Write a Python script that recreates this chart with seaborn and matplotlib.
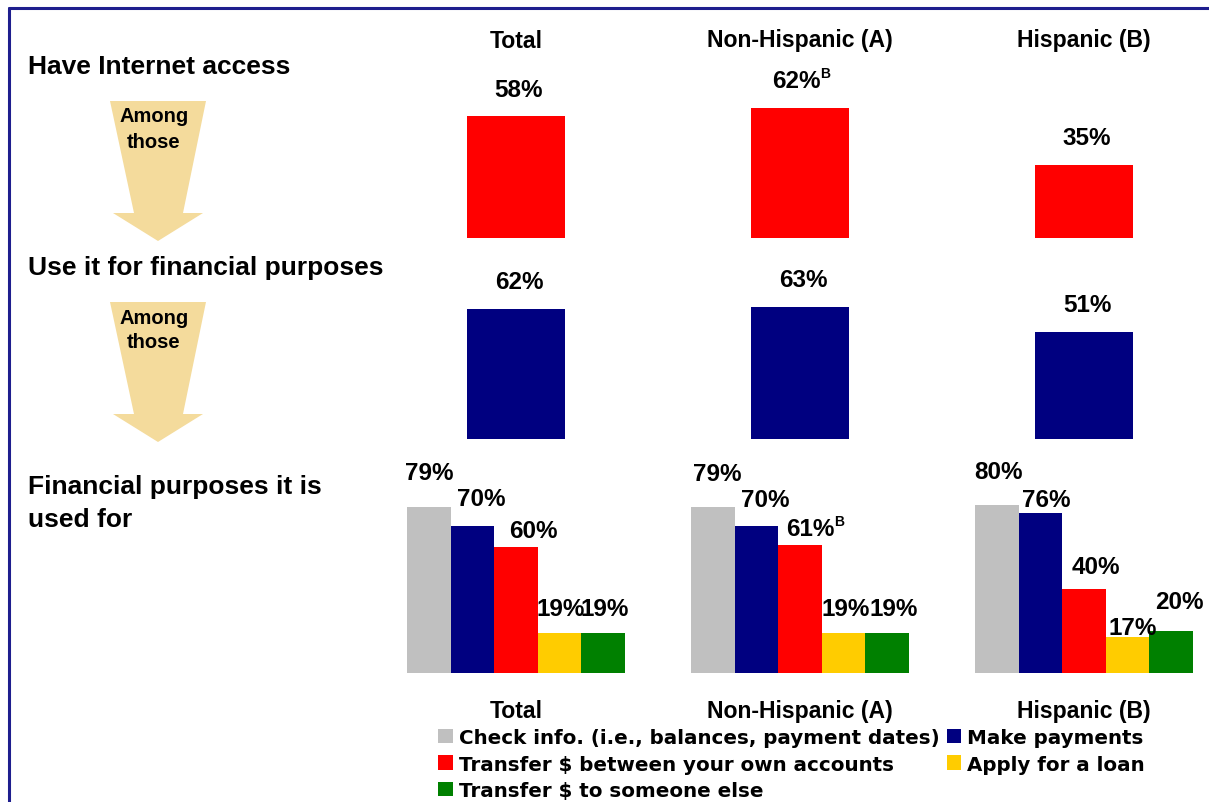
import numpy as np
import pandas as pd
import matplotlib
matplotlib.use("Agg")
import matplotlib.pyplot as plt
from matplotlib.patches import Polygon, Patch
from matplotlib.lines import Line2D
import seaborn as sns

# ---- data -------------------------------------------------------------
groups = ["Total", "Non-Hispanic (A)", "Hispanic (B)"]

internet_access = [58, 62, 35]
internet_sig = ["", "B", ""]

financial_use = [62, 63, 51]
financial_sig = ["", "", ""]

purposes = [
    "Check info. (i.e., balances, payment dates)",
    "Make payments",
    "Transfer $ between your own accounts",
    "Apply for a loan",
    "Transfer $ to someone else",
]
purpose_total = [79, 70, 60, 19, 19]
purpose_nonhisp = [79, 70, 61, 19, 19]
purpose_hisp = [80, 76, 40, 17, 20]
purpose_sig = [["", "", "", "", ""], ["", "", "B", "", ""], ["", "", "", "", ""]]

row_labels = ["Have Internet access", "Use it for financial purposes",
              "Financial purposes it is", "used for"]
arrow_lines = ["Among", "those"]

# ---- styling ----------------------------------------------------------
purpose_colors = ["#C0C0C0", "#000080", "#FF0000", "#FFCC00", "#008000"]
RED = "#FF0000"
NAVY = "#000080"
ARROW = "#F4DB9C"
FRAME = "#1E1E8E"

W, H = 1209, 803
PX_PER_PCT = 2.1
CAT_SPACING = 284
FIRST_CENTER = 516
LEFT_PX = FIRST_CENTER - CAT_SPACING / 2

sns.set_theme(style="white")
plt.rcParams["font.family"] = ["Liberation Sans", "DejaVu Sans"]
plt.rcParams["font.weight"] = "bold"
plt.rcParams["text.color"] = "black"

fig = plt.figure(figsize=(W / 100, H / 100), dpi=100)
fig.patch.set_facecolor("white")


def fx(x):
    return x / W


def fy(y):
    return 1 - y / H


def row_axes(baseline):
    ax = fig.add_axes([LEFT_PX / W, (H - baseline) / H,
                       (W - LEFT_PX) / W, 100 * PX_PER_PCT / H])
    ax.patch.set_alpha(0)
    return ax


def finish(ax):
    ax.set_xlim(-0.5, -0.5 + (W - LEFT_PX) / CAT_SPACING)
    ax.set_ylim(0, 100)
    ax.axis("off")


def value_label(ax, bar, value, sig, dx, dy, size=17.5):
    cx = bar.get_x() + bar.get_width() / 2
    top = bar.get_height()
    t = ax.annotate(f"{value}%", xy=(cx, top), xytext=(dx, dy),
                    textcoords="offset pixels", ha="center", va="center",
                    fontsize=size, fontweight="bold", color="black")
    if sig:
        ax.annotate(sig, xy=(1, 0.85), xycoords=t, xytext=(0, 0),
                    textcoords="offset pixels", ha="left", va="center",
                    fontsize=10, fontweight="bold", color="black")


# ---- rows 1 & 2: single bars -----------------------------------------
for baseline, vals, sigs, color in [(239, internet_access, internet_sig, RED),
                                    (440, financial_use, financial_sig, NAVY)]:
    ax = row_axes(baseline)
    sns.barplot(x=groups, y=vals, order=groups, color=color, width=0.342,
                saturation=1, errorbar=None, linewidth=0, edgecolor="none",
                ax=ax)
    finish(ax)
    for bar, v, s in zip(ax.patches, vals, sigs):
        value_label(ax, bar, v, s, -4 if s else 3, 27)

# ---- row 3: grouped bars ---------------------------------------------
ax3 = row_axes(674)
df = pd.DataFrame({
    "group": np.repeat(groups, len(purposes)),
    "purpose": purposes * len(groups),
    "value": purpose_total + purpose_nonhisp + purpose_hisp,
})
sns.barplot(data=df, x="group", y="value", hue="purpose", order=groups,
            hue_order=purposes, palette=dict(zip(purposes, purpose_colors)),
            width=0.768, gap=0, dodge=True, saturation=1, errorbar=None,
            linewidth=0, edgecolor="none", legend=False, ax=ax3)
finish(ax3)

# label nudges (pixels) per group / purpose, keeps labels clear of neighbours
nudges = [
    [(0, 35), (9, 27), (17, 17), (1, 25), (1, 25)],
    [(4, 34), (9, 26), (10, 16), (2, 25), (6, 25)],
    [(2, 33), (6, 14), (12, 23), (5, 10), (8, 29)],
]
group_vals = [purpose_total, purpose_nonhisp, purpose_hisp]
for pi, cont in enumerate(ax3.containers):
    for gi, bar in enumerate(cont):
        dx, dy = nudges[gi][pi]
        value_label(ax3, bar, group_vals[gi][pi], purpose_sig[gi][pi], dx, dy)

# ---- column headers & footers ----------------------------------------
for i, g in enumerate(groups):
    cx = FIRST_CENTER + i * CAT_SPACING
    fig.text(fx(cx), fy(41), g, ha="center", va="center",
             fontsize=16.6, fontweight="bold")
    fig.text(fx(cx), fy(712), g, ha="center", va="center",
             fontsize=16.6, fontweight="bold")

# ---- row labels -------------------------------------------------------
for label, y in zip(row_labels, [67, 268, 487, 520]):
    fig.text(fx(28), fy(y), label, ha="left", va="center",
             fontsize=19, fontweight="bold")

# ---- "Among those" arrows ---------------------------------------------
arrow_shape = [(110, 102), (206, 102), (183, 214), (203, 214),
               (158, 242), (113, 214), (134, 214)]
for shift in (0, 201):
    pts = [(fx(x), fy(y + shift)) for x, y in arrow_shape]
    fig.add_artist(Polygon(pts, closed=True, transform=fig.transFigure,
                           facecolor=ARROW, edgecolor="none", zorder=0))
    for line, y in zip(arrow_lines, (117, 142)):
        fig.text(fx(154), fy(y + shift), line, ha="center", va="center",
                 fontsize=14.5, fontweight="bold")

# ---- legend -----------------------------------------------------------
handles = [Patch(facecolor=c, edgecolor="none") for c in purpose_colors]
order = [0, 2, 4, 1, 3]
fig.legend([handles[i] for i in order], [purposes[i] for i in order],
           loc="upper left", bbox_to_anchor=(fx(438), fy(729)), ncol=2,
           frameon=False, borderpad=0, borderaxespad=0,
           handlelength=0.75, handleheight=0.75, handletextpad=0.3,
           columnspacing=0.35, labelspacing=0.38,
           prop={"family": "DejaVu Sans", "weight": "bold", "size": 14.3})

# ---- frame ------------------------------------------------------------
fig.add_artist(Line2D([fx(9), 1.0], [fy(9), fy(9)], transform=fig.transFigure,
                      color=FRAME, lw=2.2))
fig.add_artist(Line2D([fx(9), fx(9)], [fy(9), 0.0], transform=fig.transFigure,
                      color=FRAME, lw=2.2))

fig.savefig("out.png", dpi=100, facecolor="white")
